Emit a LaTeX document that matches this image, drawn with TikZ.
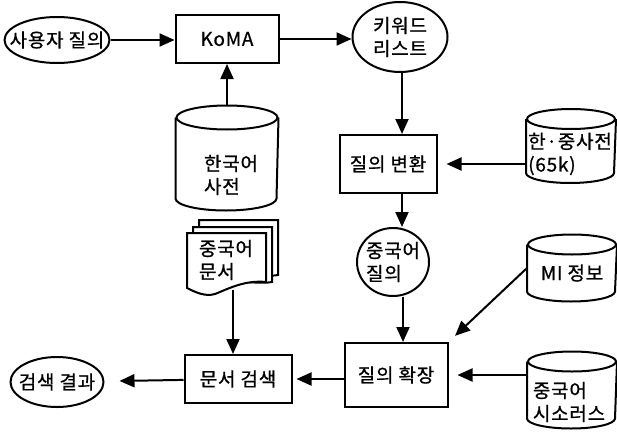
\documentclass[tikz,border=0pt]{standalone}
\usepackage{fontspec}
\setmainfont{Noto Sans CJK KR}[FakeBold=0.8, LetterSpace=4]
\usetikzlibrary{shapes.geometric, arrows.meta}

% cylinder outline round a node: name, x radius, y radius
\newcommand{\drum}[3]{%
  \draw ([yshift=-#3]#1.north west) -- ([yshift=#3]#1.south west)
    arc[start angle=180, end angle=360, x radius=#2, y radius=#3]
    -- ([yshift=-#3]#1.north east);
  \draw ([yshift=-#3]#1.north) ellipse [x radius=#2, y radius=#3];}

\begin{document}
\begin{tikzpicture}[x=1pt, y=-1pt, line width=2pt,
  every node/.style={font=\fontsize{19}{23}\selectfont, inner sep=0pt},
  box/.style={draw, rectangle},
  oval/.style={draw, ellipse, inner xsep=-13pt, inner ysep=-8pt},
  store/.style={rectangle},
  link/.style={-{Triangle[length=15pt, width=13pt]}}]
  \useasboundingbox (0,0) rectangle (617,436);
  % nodes
  \node[oval, minimum width=105pt, minimum height=46pt] (query) at (57,40) {사용자 질의};
  \node[box, minimum width=103pt, minimum height=48pt] (koma) at (227,39) {KoMA};
  \node[store, minimum width=101pt, minimum height=103pt] (kodict) at (227,158) {};
  \node[align=left] (kodict-text) at (231,175) {한국어\\사전};
  \node[oval, minimum width=95pt, minimum height=70pt, align=left] (keys) at (400,37) {키워드\\리스트};
  \node[box, minimum width=97pt, minimum height=58pt] (trans) at (388,164) {질의 변환};
  \node[store, minimum width=88pt, minimum height=72pt] (kcdict) at (571,146) {};
  \node[align=left] (kcdict-text) at (570,154) {한·중사전\\(65k)};
  \node[oval, minimum width=72pt, minimum height=68pt, align=left] (cnquery) at (393,262) {중국어\\질의};
  \node[store, minimum width=88pt, minimum height=65pt] (mi) at (572,268) {};
  \node (mi-text) at (572,273) {MI 정보};
  \node[box, minimum width=103pt, minimum height=64pt] (expand) at (396,375) {질의 확장};
  \node[store, minimum width=88pt, minimum height=75pt] (thes) at (572,390) {};
  \node[align=left] (thes-text) at (569,402) {중국어\\시소러스};
  \node[box, minimum width=107pt, minimum height=48pt] (search) at (238,379) {문서 검색};
  \node[oval, minimum width=93pt, minimum height=50pt] (result) at (57,382) {검색 결과};
  \drum{kodict}{50.5pt}{12pt}
  \drum{kcdict}{44pt}{10pt}
  \drum{mi}{44pt}{10pt}
  \drum{thes}{44pt}{10pt}
  % document stack
  \draw[fill=white] (199,220) -- (278,220) -- (278,275) .. controls (262,278) and (240,270) .. (222,282) -- (199,282) -- cycle;
  \draw[fill=white] (193,227) -- (272,227) -- (272,282) .. controls (256,285) and (234,277) .. (216,289) -- (193,289) -- cycle;
  \draw[fill=white] (187,233) -- (266,233) -- (266,282) .. controls (245,280) and (230,288) .. (215,294) .. controls (205,297) and (195,292) .. (187,288) -- cycle;
  \node[align=left] (docs) at (226,260) {중국어\\문서};
  \coordinate (docs-out) at (233,290);
  % connectors
  \draw[link] (query.east) -- (koma.west |- query.east);
  \draw[link] (kodict) -- (koma);
  \draw[link] (koma.east) -- (keys.west |- koma.east);
  \draw[link] (keys.south -| 402,0) -- (trans.north -| 402,0);
  \draw[link, shorten >=9pt] (kcdict.west |- trans) -- (trans);
  \draw[link] (trans.south -| 402,0) -- (cnquery.north -| 402,0);
  \draw[link] (cnquery.south -| 403,0) -- (expand.north -| 403,0);
  \draw[link, shorten >=9pt] (mi.west) -- (expand.north east);
  \draw[link, shorten >=9pt] (thes.west |- expand) -- (expand);
  \draw[link, shorten >=4pt] (expand.west |- search) -- (search);
  \draw[link] (docs-out) -- (search.north -| docs-out);
  \draw[link, shorten >=15pt] (search) -- (result);
\end{tikzpicture}
\end{document}
